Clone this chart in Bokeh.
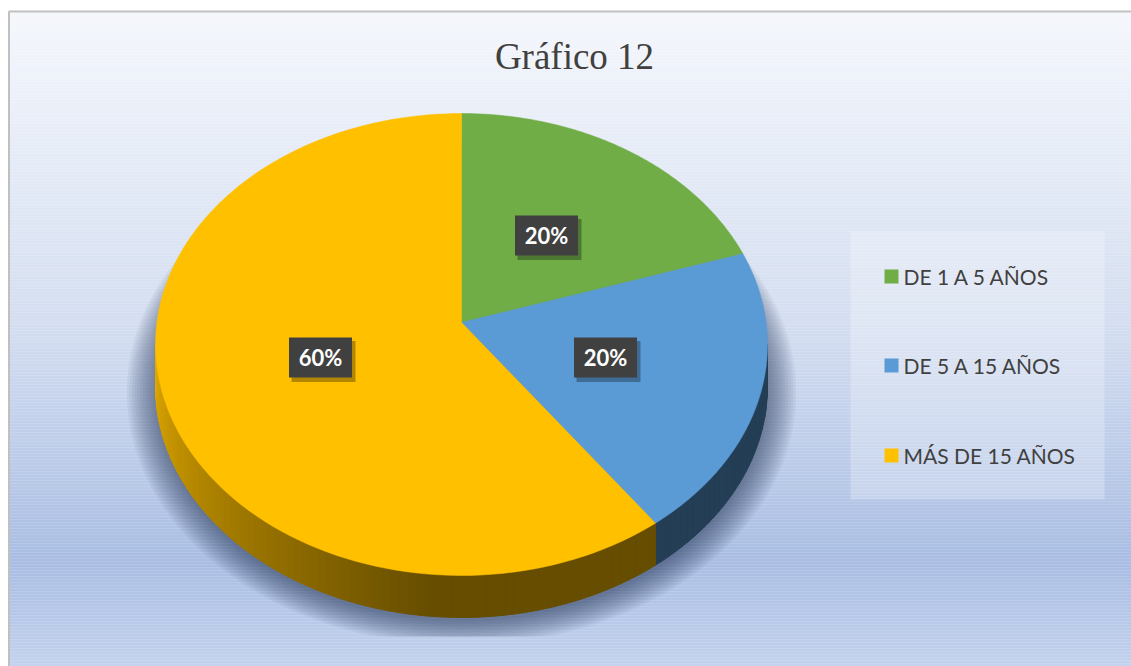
import numpy as np
from bokeh.plotting import figure
from bokeh.models import Range1d
from bokeh.core.properties import value
from bokeh.embed import file_html
from bokeh.resources import INLINE

# ---------------- data ----------------
categories = ["DE 1 A 5 AÑOS", "DE 5 A 15 AÑOS", "MÁS DE 15 AÑOS"]
shares = [20, 20, 60]
pct_labels = ["20%", "20%", "60%"]
colors = ["#70ad47", "#5b9bd5", "#ffc000"]
chart_title = "Gráfico 12"

# ---------------- layout / style ----------------
W, H = 1131, 666
CX, CY = 461.0, 322.0        # apex of the pie (screen px)
A, B, K = 304.6, 228.9, 0.0952   # radii and perspective factor
DEPTH = 42.0
label_pos = [(546, 235), (605, 357), (320, 357)]
legend_y = [276, 365, 455]

p = figure(width=W, height=H, x_range=Range1d(0, W), y_range=Range1d(H, 0),
           output_backend="svg", toolbar_location=None, min_border=0,
           x_axis_type=None, y_axis_type=None)
p.grid.visible = False
p.outline_line_color = None
p.background_fill_color = "white"
p.border_fill_color = "white"


def hex2rgb(h):
    h = h.lstrip("#")
    return np.array([int(h[i:i + 2], 16) for i in (0, 2, 4)], dtype=float)


def rgb2hex(c):
    c = np.clip(np.round(c), 0, 255).astype(int)
    return "#%02x%02x%02x" % tuple(c)


# ---------------- background gradient ----------------
stops_y = [12, 110, 330, 560, 666]
stops_c = [hex2rgb(c) for c in ["#f5f7fc", "#eaeff8", "#d3ddf0", "#a9bde3", "#c3d2ed"]]
ys = np.arange(12, 668, 3)
bg_cols = []
for y in ys:
    c = np.array([np.interp(y + 1.5, stops_y, [s[i] for s in stops_c]) for i in range(3)])
    bg_cols.append(rgb2hex(c))
p.quad(left=8, right=W, top=ys, bottom=ys + 3.2, fill_color=bg_cols, line_color=None)

# border
p.line([8, W], [11, 11], line_color="#c0c0c0", line_width=2)
p.line([8.5, 8.5], [11, H], line_color="#c0c0c0", line_width=2)


def rim(th, dy=0.0, s=1.0, cy=CY):
    d = 1 + K * np.cos(th)
    return CX + s * A * np.sin(th) / d, cy + dy - s * B * np.cos(th) / d


# ---------------- shadow ----------------
tt = np.linspace(0, 2 * np.pi, 240)
for i in range(12):
    s = 1.0 + 0.0085 * i
    xs, yy = rim(tt, s=s, cy=CY + DEPTH + 4)
    yy = np.minimum(yy, 636)
    p.patch(xs, yy, fill_color="#1f2f4f", fill_alpha=0.06, line_color=None)

# ---------------- pie ----------------
total = float(sum(shares))
bounds = np.concatenate([[0], np.cumsum(shares)]) / total * 2 * np.pi
s1 = np.arccos(-K)
s2 = 2 * np.pi - s1


def shade(th):
    d = np.degrees(th)
    if d <= 185:
        return 0.40
    return min(0.88, 0.40 + 0.48 * (d - 185) / 80)


# sides
for i, col in enumerate(colors):
    a0, a1 = max(bounds[i], s1), min(bounds[i + 1], s2)
    if a1 <= a0:
        continue
    n = max(2, int(np.degrees(a1 - a0) / 1.5))
    ts = np.linspace(a0, a1, n + 1)
    base = hex2rgb(col)
    xs_list, ys_list, cl = [], [], []
    for t0, t1 in zip(ts[:-1], ts[1:]):
        x0, y0 = rim(t0)
        x1, y1 = rim(t1)
        xs_list.append([x0, x1, x1, x0])
        ys_list.append([y0, y1, y1 + DEPTH, y0 + DEPTH])
        cl.append(rgb2hex(base * shade((t0 + t1) / 2)))
    p.patches(xs_list, ys_list, fill_color=cl, line_color=cl, line_width=1)

# top faces
for i, col in enumerate(colors):
    ts = np.linspace(bounds[i], bounds[i + 1], 120)
    xs, yy = rim(ts)
    p.patch(np.concatenate([[CX], xs]), np.concatenate([[CY], yy]),
            fill_color=col, line_color=col, line_width=0.5)

# data labels
lx = [q[0] for q in label_pos]
ly = [q[1] for q in label_pos]
p.rect([x + 3 for x in lx], [y + 4 for y in ly], width=64, height=41,
       fill_color="black", fill_alpha=0.3, line_color=None)
p.rect(lx, ly, width=63, height=40, fill_color="#404040", line_color=None)
p.text(lx, ly, text=pct_labels, text_align="center", text_baseline="middle",
       text_font=value("Lato"), text_font_style="bold", text_font_size="22px",
       text_color="white")

# ---------------- legend ----------------
p.rect([977], [365], width=254, height=268, fill_color="white", fill_alpha=0.25,
       line_color=None)
p.rect([891] * 3, legend_y, width=14, height=14, fill_color=colors, line_color=None)
p.text([903] * 3, legend_y, text=categories, text_align="left", text_baseline="middle",
       text_font=value("Lato"), text_font_size="21px", text_color="#404040")

# ---------------- title ----------------
p.text([574], [56], text=[chart_title], text_align="center", text_baseline="middle",
       text_font=value("Liberation Serif"), text_font_size="37px", text_color="#404040")

open("out.html", "w").write(file_html(p, INLINE))
